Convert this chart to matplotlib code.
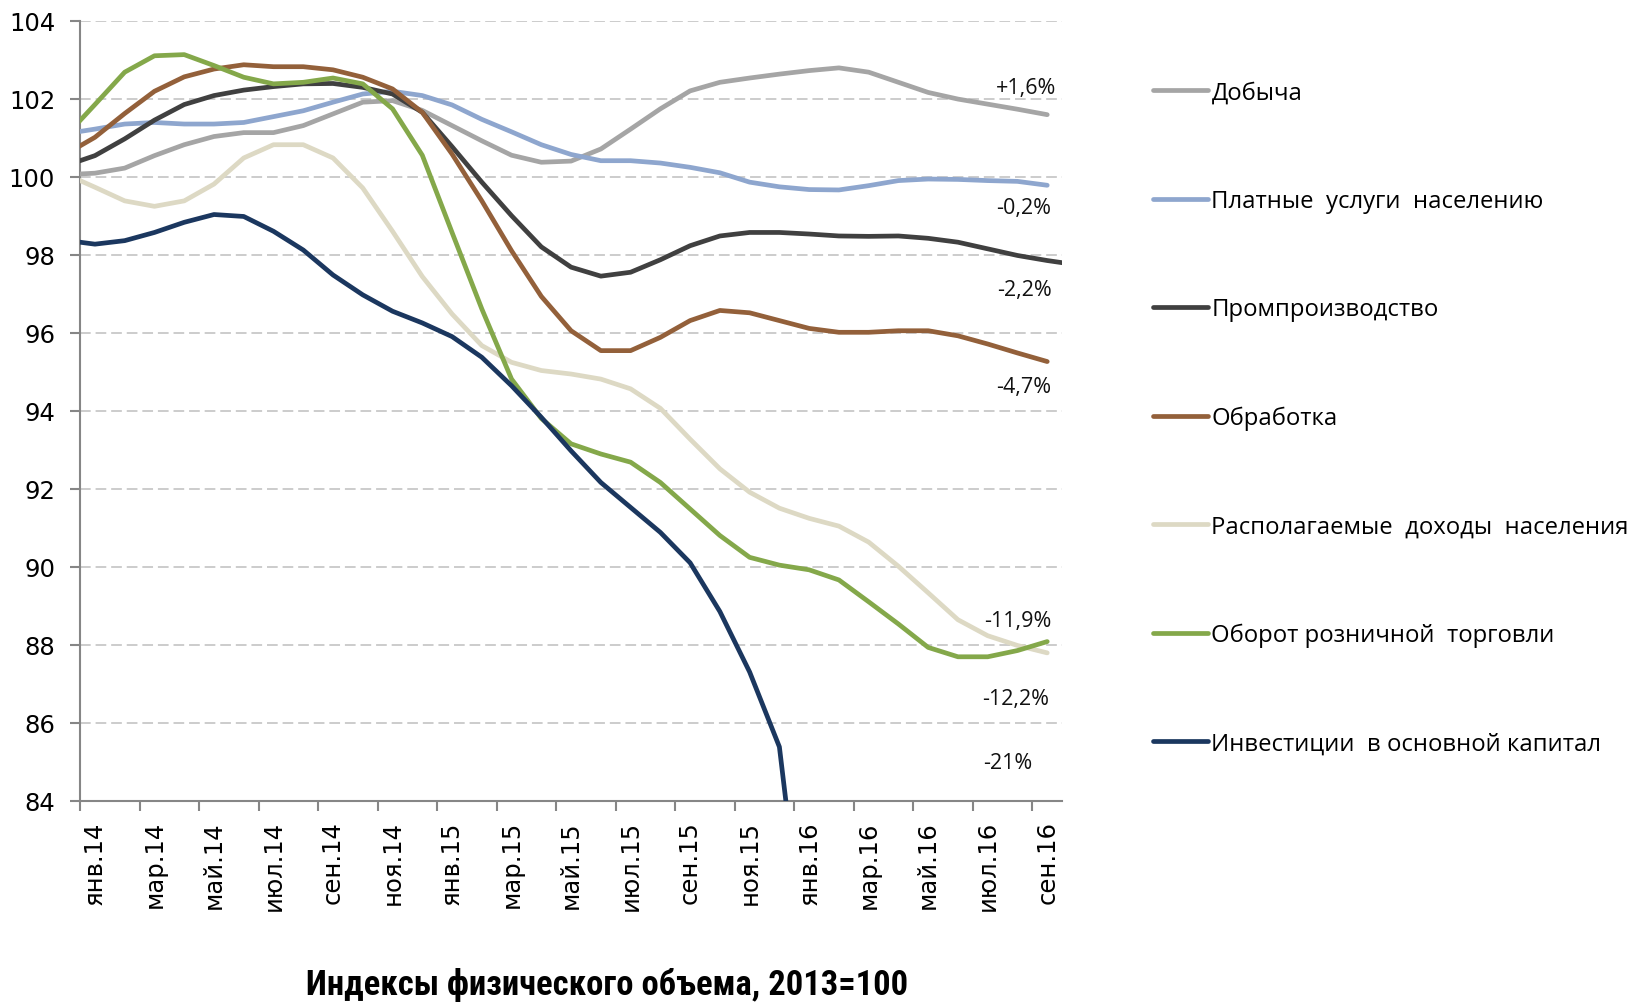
import numpy as np
import matplotlib
matplotlib.use("Agg")
import matplotlib.pyplot as plt
from matplotlib.lines import Line2D
from matplotlib import font_manager as fm

# ---- data (monthly, Dec 2013 .. Sep 2016; Dec 2013 only shows as the line entering at the axis) ----
months = ["дек.13", "янв.14", "фев.14", "мар.14", "апр.14", "май.14", "июн.14", "июл.14", "авг.14",
          "сен.14", "окт.14", "ноя.14", "дек.14", "янв.15", "фев.15", "мар.15", "апр.15", "май.15",
          "июн.15", "июл.15", "авг.15", "сен.15", "окт.15", "ноя.15", "дек.15", "янв.16", "фев.16",
          "мар.16", "апр.16", "май.16", "июн.16", "июл.16", "авг.16", "сен.16", "окт.16"]
tick_labels = ["янв.14", "мар.14", "май.14", "июл.14", "сен.14", "ноя.14", "янв.15", "мар.15",
               "май.15", "июл.15", "сен.15", "ноя.15", "янв.16", "мар.16", "май.16", "июл.16", "сен.16"]

dobycha = [100.05, 100.09, 100.22, 100.54, 100.82, 101.03, 101.13, 101.13, 101.31, 101.61, 101.91,
           101.95, 101.70, 101.31, 100.92, 100.55, 100.37, 100.40, 100.71, 101.22, 101.74, 102.20,
           102.42, 102.53, 102.63, 102.72, 102.79, 102.68, 102.42, 102.16, 101.99, 101.86, 101.73,
           101.59]
uslugi = [101.10, 101.22, 101.35, 101.39, 101.35, 101.35, 101.39, 101.54, 101.69, 101.91, 102.12,
          102.19, 102.08, 101.84, 101.47, 101.15, 100.82, 100.57, 100.41, 100.41, 100.35, 100.24,
          100.10, 99.86, 99.74, 99.67, 99.66, 99.77, 99.90, 99.94, 99.93, 99.90, 99.88, 99.78]
prom = [100.28, 100.54, 100.97, 101.45, 101.85, 102.08, 102.22, 102.31, 102.38, 102.39, 102.29,
        102.12, 101.65, 100.77, 99.86, 99.00, 98.20, 97.68, 97.45, 97.55, 97.87, 98.23, 98.48,
        98.57, 98.57, 98.53, 98.48, 98.47, 98.48, 98.42, 98.32, 98.15, 97.98, 97.85, 97.74]
obrabotka = [100.57, 101.01, 101.62, 102.19, 102.56, 102.76, 102.87, 102.82, 102.82, 102.74, 102.55,
             102.25, 101.65, 100.58, 99.38, 98.10, 96.93, 96.05, 95.54, 95.54, 95.88, 96.31, 96.57,
             96.51, 96.31, 96.11, 96.01, 96.01, 96.05, 96.05, 95.92, 95.71, 95.48, 95.26]
dohody = [100.07, 99.73, 99.38, 99.24, 99.38, 99.81, 100.48, 100.82, 100.82, 100.48, 99.71, 98.60,
          97.44, 96.48, 95.67, 95.24, 95.03, 94.94, 94.81, 94.56, 94.06, 93.27, 92.51, 91.91, 91.50,
          91.24, 91.04, 90.63, 90.01, 89.33, 88.64, 88.23, 87.98, 87.79]
roznica = [101.03, 101.85, 102.68, 103.10, 103.13, 102.85, 102.55, 102.38, 102.42, 102.53, 102.38,
           101.74, 100.55, 98.57, 96.61, 94.81, 93.80, 93.15, 92.89, 92.68, 92.16, 91.48, 90.80,
           90.24, 90.04, 89.92, 89.66, 89.10, 88.53, 87.93, 87.69, 87.69, 87.85, 88.08]
investicii = [98.37, 98.27, 98.36, 98.57, 98.83, 99.03, 98.98, 98.60, 98.12, 97.48, 96.97, 96.55,
              96.25, 95.90, 95.37, 94.64, 93.83, 92.97, 92.16, 91.52, 90.88, 90.10, 88.85, 87.30,
              85.38, 79.0]

series_names = ["Добыча", "Платные  услуги  населению", "Промпроизводство", "Обработка",
                "Располагаемые  доходы  населения", "Оборот розничной  торговли",
                "Инвестиции  в основной капитал"]
series_values = [dobycha, uslugi, prom, obrabotka, dohody, roznica, investicii]
series_colors = ["#A5A5A5", "#8EA6CE", "#404040", "#93603A", "#DDD9C4", "#84A84A", "#1B375F"]

end_labels = ["+1,6%", "-0,2%", "-2,2%", "-4,7%", "-11,9%", "-12,2%", "-21%"]
end_label_pos = [(31.29, 102.28), (31.22, 99.22), (31.22, 97.12), (31.22, 94.61),
                 (31.02, 88.61), (30.95, 86.61), (30.68, 84.97)]

title_text = "Индексы физического объема, 2013=100"


def first_font(cands):
    for c in cands:
        try:
            fm.findfont(fm.FontProperties(family=c), fallback_to_default=False)
            return c
        except Exception:
            continue
    return "DejaVu Sans"


# ---- figure ----
fig = plt.figure(figsize=(16.34, 10.04), dpi=100)
ax = fig.add_axes([0.049, 0.2015, 0.601, 0.7769])

handles = []
for name, vals, col in zip(series_names, series_values, series_colors):
    x = np.arange(len(vals)) - 1  # index 0 = Jan 2014
    ax.plot(x, vals, color=col, lw=3.4, solid_capstyle="round",
            solid_joinstyle="round", label=name, zorder=3)
    handles.append(Line2D([], [], color=col, lw=3.4, solid_capstyle="round"))

ax.set_xlim(-0.5, 32.5)
ax.set_ylim(84, 104)

# grid
ax.set_yticks(np.arange(84, 105, 2))
for yv in np.arange(86, 105, 2):
    ax.axhline(yv, color="#BFBFBF", lw=1.1, linestyle=(0, (7, 3.2)), zorder=1)

# spines
for s in ["top", "right"]:
    ax.spines[s].set_visible(False)
for s in ["left", "bottom"]:
    ax.spines[s].set_color("#868686")
    ax.spines[s].set_linewidth(1.5)
    ax.spines[s].set_zorder(2)

# y ticks
ax.tick_params(axis="y", direction="out", length=7, width=1.5, color="#868686",
               pad=11, labelsize=17.5)
for t in ax.get_yticklabels():
    t.set_family("DejaVu Sans")

# x ticks: labels at every other month, tick marks between categories
ax.set_xticks(np.arange(0, 33, 2))
ax.set_xticklabels(tick_labels, rotation=90, family="DejaVu Sans", fontsize=17.5)
ax.set_xticks(np.arange(-0.5, 32, 2), minor=True)
ax.tick_params(axis="x", which="major", length=0, pad=14)
ax.tick_params(axis="x", which="minor", direction="out", length=7, width=1.5, color="#868686")

# end-of-line labels
for txt, (xx, yy) in zip(end_labels, end_label_pos):
    ax.text(xx, yy, txt, ha="center", va="center", fontsize=15.5, family="Open Sans",
            color="#111111")

# legend
leg = fig.legend(handles, series_names, loc="upper left", bbox_to_anchor=(0.7056, 0.9185),
                 frameon=False, handlelength=2.3, handletextpad=0.15,
                 labelspacing=3.53, borderpad=0, borderaxespad=0,
                 prop={"family": "Open Sans", "size": 17.2})

# title at bottom (condensed bold if available, sized to the reference width)
tfam = first_font(["Liberation Sans Narrow", "DejaVu Sans Condensed", "Roboto Condensed",
                   "Open Sans Condensed", "Noto Sans"])
ttl = fig.text(0.3715, 0.0193, title_text, ha="center", va="center",
               fontsize=22, fontweight="bold", family=tfam)
fig.canvas.draw()
w = ttl.get_window_extent().width
target = 600.0
ttl.set_fontsize(22 * target / w)

fig.savefig("out.png", dpi=100)
